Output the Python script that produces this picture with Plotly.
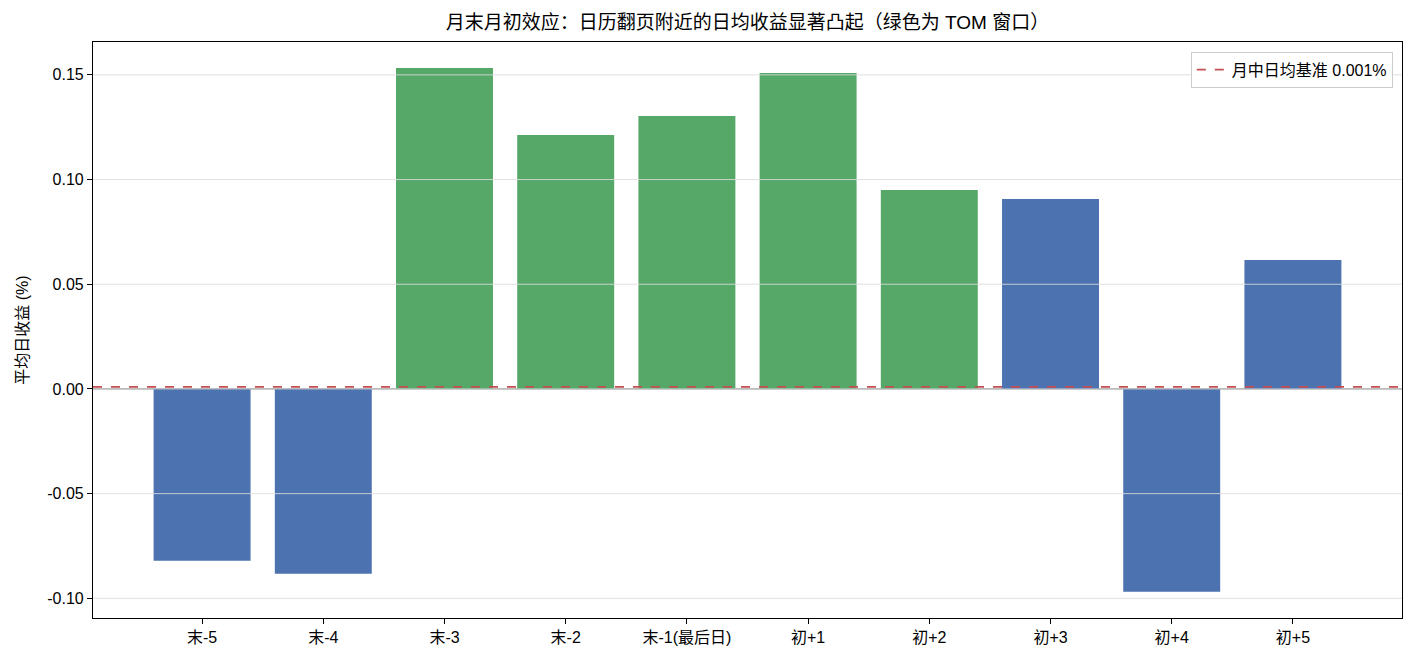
import plotly.graph_objects as go

categories = ["末-5", "末-4", "末-3", "末-2", "末-1(最后日)", "初+1", "初+2", "初+3", "初+4", "初+5"]
values = [-0.0821, -0.0883, 0.1533, 0.1213, 0.1304, 0.1509, 0.0950, 0.0907, -0.0969, 0.0616]
is_tom = [False, False, True, True, True, True, True, False, False, False]
baseline = 0.001
ytick_vals = [-0.10, -0.05, 0.00, 0.05, 0.10, 0.15]
ytick_text = ["-0.10", "-0.05", "0.00", "0.05", "0.10", "0.15"]

BLUE = "#4C72B0"
GREEN = "#55A868"
RED = "#C44E52"
FONT = "Liberation Sans, Arial, Noto Sans CJK SC, sans-serif"

x = list(range(len(categories)))
colors = [GREEN if t else BLUE for t in is_tom]

fig = go.Figure()
fig.add_trace(go.Bar(x=x, y=values, marker=dict(color=colors, line=dict(width=0)),
                     width=0.8, showlegend=False, hoverinfo="y"))
fig.add_trace(go.Scatter(x=[-0.9, 9.9], y=[baseline, baseline], mode="lines",
                         line=dict(color=RED, dash="dash", width=1.8),
                         name=f"月中日均基准 {baseline:.3f}%"))

shapes = []
for v in ytick_vals:
    shapes.append(dict(type="line", xref="paper", x0=0, x1=1, yref="y", y0=v, y1=v,
                       line=dict(color="rgba(220,220,220,0.85)", width=1), layer="above"))
shapes.append(dict(type="line", xref="paper", x0=0, x1=1, yref="y", y0=0, y1=0,
                   line=dict(color="#808080", width=1.2), layer="below"))

fig.update_layout(
    width=1414, height=661,
    margin=dict(l=93, r=12, t=42, b=43),
    paper_bgcolor="white", plot_bgcolor="white",
    font=dict(family=FONT, size=15, color="black"),
    title=dict(text="月末月初效应：日历翻页附近的日均收益显著凸起（绿色为 TOM 窗口）",
               x=0.5, xanchor="center", xref="paper", y=0.966, yanchor="middle",
               font=dict(size=19, family=FONT)),
    xaxis=dict(range=[-0.9, 9.9], tickvals=x, ticktext=categories,
               showline=True, linecolor="black", linewidth=1.2, mirror=True,
               ticks="outside", ticklen=5, tickcolor="black", showgrid=False, zeroline=False,
               tickfont=dict(size=16)),
    yaxis=dict(range=[-0.1094, 0.1657], tickvals=ytick_vals, ticktext=ytick_text,
               showline=True, linecolor="black", linewidth=1.2, mirror=True,
               ticks="outside", ticklen=5, tickcolor="black", showgrid=False, zeroline=False,
               tickfont=dict(size=16),
               title=dict(text="平均日收益 (%)", font=dict(size=16), standoff=14)),
    legend=dict(x=0.993, y=0.983, xanchor="right", yanchor="top",
                bgcolor="rgba(255,255,255,0.9)", bordercolor="#cccccc", borderwidth=1,
                font=dict(size=16)),
    shapes=shapes,
    bargap=0.2,
)
fig.write_html("out.html")
